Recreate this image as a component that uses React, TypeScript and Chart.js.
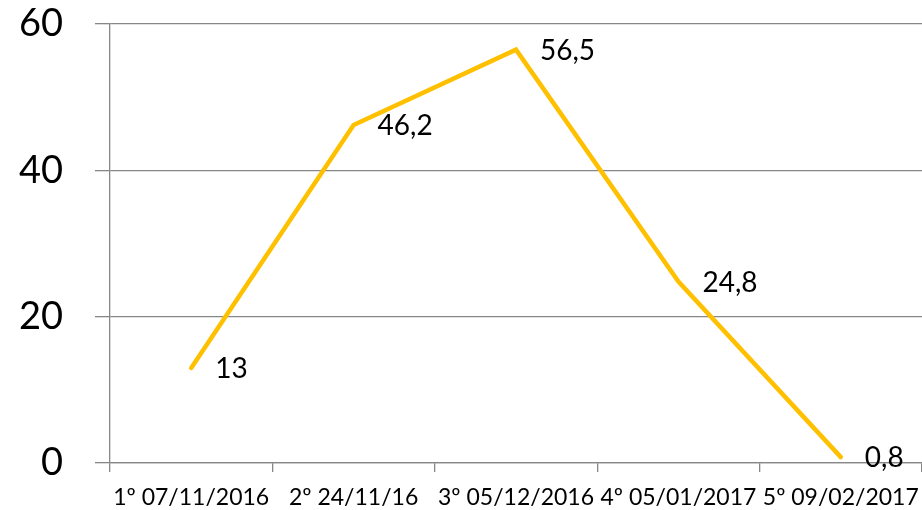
import React, { useEffect, useRef } from "react";
import { Chart, registerables } from "chart.js";

Chart.register(...registerables);

const categories = ["1º 07/11/2016", "2º 24/11/16", "3º 05/12/2016", "4º 05/01/2017", "5º 09/02/2017"];
const values = [13, 46.2, 56.5, 24.8, 0.8];
const valueLabels = ["13", "46,2", "56,5", "24,8", "0,8"];
const yTicks = [0, 20, 40, 60];

const FONT = "Lato, 'Liberation Sans', Arial, sans-serif";

const dataLabelPlugin = {
  id: "dataLabels",
  afterDatasetsDraw(chart: any) {
    const ctx = chart.ctx;
    const meta = chart.getDatasetMeta(0);
    ctx.save();
    ctx.font = `28px ${FONT}`;
    ctx.fillStyle = "#000000";
    ctx.textAlign = "left";
    ctx.textBaseline = "middle";
    meta.data.forEach((pt: any, i: number) => {
      ctx.fillText(valueLabels[i], pt.x + 24, pt.y + 1);
    });
    ctx.restore();
  },
};

function zeroPad(scale: any) {
  scale.paddingTop = 0;
  scale.paddingBottom = 0;
  scale.paddingLeft = 0;
  scale.paddingRight = 0;
}

export default function App() {
  const ref = useRef<HTMLCanvasElement | null>(null);
  useEffect(() => {
    document.body.style.margin = "0";
    const chart = new Chart(ref.current as HTMLCanvasElement, {
      type: "line",
      data: {
        labels: categories,
        datasets: [
          {
            data: values,
            borderColor: "#FFC000",
            borderWidth: 4.5,
            borderCapStyle: "round",
            borderJoinStyle: "miter",
            pointRadius: 0,
            tension: 0,
            fill: false,
          },
        ],
      },
      options: {
        animation: false,
        responsive: true,
        maintainAspectRatio: false,
        layout: { padding: { top: 24, right: 0, left: 0, bottom: 0 } },
        plugins: { legend: { display: false }, title: { display: false }, tooltip: { enabled: false } },
        scales: {
          x: {
            offset: true,
            grid: {
              offset: true,
              drawOnChartArea: false,
              drawTicks: true,
              tickLength: 9,
              color: "#878787",
              lineWidth: 1.3,
            },
            border: { display: true, color: "#878787", width: 1.3 },
            ticks: {
              autoSkip: false,
              maxRotation: 0,
              minRotation: 0,
              padding: 12,
              color: "#000000",
              font: { family: FONT, size: 23 },
            },
            afterFit(scale: any) {
              scale.height = 47;
              zeroPad(scale);
            },
          },
          y: {
            min: 0,
            max: 60,
            afterBuildTicks(scale: any) {
              scale.ticks = yTicks.map((v) => ({ value: v }));
            },
            grid: {
              drawTicks: true,
              tickLength: 15,
              color: "#878787",
              lineWidth: 1.3,
            },
            border: { display: true, color: "#878787", width: 1.3 },
            ticks: {
              padding: 32,
              color: "#000000",
              font: { family: FONT, size: 38 },
            },
            afterFit(scale: any) {
              scale.width = 110;
              zeroPad(scale);
            },
          },
        },
      },
      plugins: [dataLabelPlugin],
    } as any);
    return () => chart.destroy();
  }, []);
  return (
    <div style={{ width: 922, height: 510, position: "relative" }}>
      <canvas ref={ref} />
    </div>
  );
}
